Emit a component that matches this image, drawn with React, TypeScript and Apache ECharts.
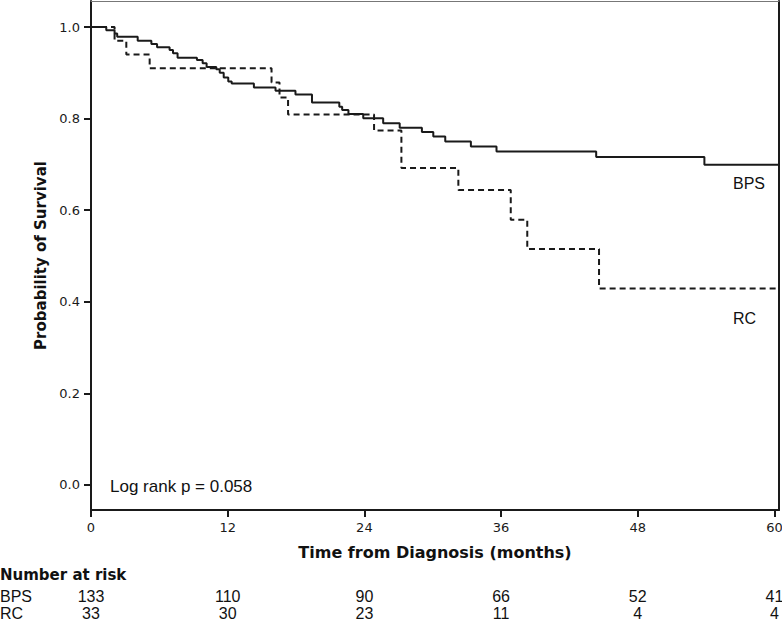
import React, { useEffect, useRef } from 'react';
import * as echarts from 'echarts';

// Kaplan-Meier curves (time in months, survival probability)
const bpsTime = [0, 1.34, 2.07, 2.3, 4.1, 5.3, 5.8, 6.9, 7.2, 7.6, 9.3, 9.8, 10.15, 11.0, 11.3, 11.65, 12.05, 12.35, 14.3, 16.2, 17.95, 19.4, 21.8, 22.05, 22.6, 23.9, 25.65, 27.1, 29.05, 30.05, 31.1, 33.35, 35.6, 44.35, 53.85, 60.4];
const bpsSurv = [1.0, 0.993, 0.986, 0.979, 0.970, 0.963, 0.956, 0.950, 0.943, 0.933, 0.928, 0.921, 0.913, 0.908, 0.900, 0.890, 0.881, 0.877, 0.868, 0.861, 0.853, 0.835, 0.826, 0.819, 0.810, 0.801, 0.790, 0.780, 0.771, 0.761, 0.750, 0.739, 0.728, 0.716, 0.699, 0.699];

const rcTime = [0, 2.07, 3.1, 5.15, 15.85, 16.55, 17.3, 24.85, 27.25, 32.25, 36.85, 38.3, 44.6, 60.4];
const rcSurv = [1.0, 0.970, 0.940, 0.910, 0.879, 0.846, 0.809, 0.774, 0.692, 0.644, 0.579, 0.515, 0.429, 0.429];

const xTicks = [0, 12, 24, 36, 48, 60];
const yTicks = [0, 0.2, 0.4, 0.6, 0.8, 1.0];

const atRiskBPS = [133, 110, 90, 66, 52, 41];
const atRiskRC = [33, 30, 23, 11, 4, 4];

const X_MIN = 0;
const X_MAX = 60.4;
const Y_MIN = -0.055;
const Y_MAX = 1.057;

const INK = '#1a1a1a';
const TICK_FONT = 'DejaVu Sans';
const TITLE_FONT = 'DejaVu Sans';
const PLAIN_FONT = 'Liberation Sans';

export default function App() {
  const ref = useRef<HTMLDivElement>(null);

  useEffect(() => {
    if (!ref.current) return;
    const chart = echarts.init(ref.current, undefined, { renderer: 'svg' });

    const tickIndex = (v: number) => xTicks.indexOf(Math.round(v));

    const hiddenX = {
      type: 'value',
      min: X_MIN,
      max: X_MAX,
      axisTick: { show: false },
      splitLine: { show: false },
    };

    const riskLabel = (values: number[]) => ({
      customValues: xTicks,
      margin: 4,
      fontFamily: PLAIN_FONT,
      fontSize: 16,
      lineHeight: 16,
      color: '#111',
      formatter: (v: number) => {
        const i = tickIndex(v);
        return i >= 0 ? String(values[i]) : '';
      },
    });

    const option: any = {
      animation: false,
      backgroundColor: '#ffffff',
      grid: { left: 91, right: 3, top: 1, bottom: 112, outerBoundsMode: 'none', containLabel: false },
      xAxis: [
        {
          type: 'value',
          min: X_MIN,
          max: X_MAX,
          position: 'bottom',
          axisLine: { show: true, onZero: false, lineStyle: { color: INK, width: 2 } },
          axisTick: { show: true, customValues: xTicks, length: 7, lineStyle: { color: INK, width: 2 } },
          axisLabel: {
            customValues: xTicks,
            margin: 11,
            fontFamily: TICK_FONT,
            fontSize: 13,
            color: '#1a1a1a',
            formatter: (v: number) => String(v),
          },
          splitLine: { show: false },
          name: 'Time from Diagnosis (months)',
          nameLocation: 'middle',
          nameGap: 34,
          nameTextStyle: { fontFamily: TITLE_FONT, fontWeight: 'bold', fontSize: 16, color: '#111' },
        },
        {
          ...hiddenX,
          position: 'top',
          axisLine: { show: true, onZero: false, lineStyle: { color: '#777', width: 1 } },
          axisLabel: { show: false },
        },
        {
          ...hiddenX,
          position: 'bottom',
          offset: 74,
          axisLine: { show: false, onZero: false },
          axisLabel: riskLabel(atRiskBPS),
        },
        {
          ...hiddenX,
          position: 'bottom',
          offset: 91,
          axisLine: { show: false, onZero: false },
          axisLabel: riskLabel(atRiskRC),
        },
      ],
      yAxis: [
        {
          type: 'value',
          min: Y_MIN,
          max: Y_MAX,
          position: 'left',
          axisLine: { show: true, onZero: false, lineStyle: { color: INK, width: 2 } },
          axisTick: { show: true, customValues: yTicks, length: 7, lineStyle: { color: INK, width: 2 } },
          axisLabel: {
            customValues: yTicks,
            margin: 11,
            fontFamily: TICK_FONT,
            fontSize: 13,
            color: '#1a1a1a',
            formatter: (v: number) => v.toFixed(1),
          },
          splitLine: { show: false },
          name: 'Probability of Survival',
          nameLocation: 'middle',
          nameGap: 43,
          nameTextStyle: { fontFamily: TITLE_FONT, fontWeight: 'bold', fontSize: 15, color: '#111' },
        },
        {
          type: 'value',
          min: Y_MIN,
          max: Y_MAX,
          position: 'right',
          axisLine: { show: true, onZero: false, lineStyle: { color: INK, width: 2 } },
          axisTick: { show: false },
          axisLabel: { show: false },
          splitLine: { show: false },
        },
      ],
      series: [
        {
          name: 'BPS',
          type: 'line',
          step: 'end',
          xAxisIndex: 0,
          yAxisIndex: 0,
          showSymbol: false,
          data: bpsTime.map((t, i) => [t, bpsSurv[i]]),
          lineStyle: { color: INK, width: 2 },
          silent: true,
        },
        {
          name: 'RC',
          type: 'line',
          step: 'end',
          xAxisIndex: 0,
          yAxisIndex: 0,
          showSymbol: false,
          data: rcTime.map((t, i) => [t, rcSurv[i]]),
          lineStyle: { color: INK, width: 2, type: [6, 4] },
          silent: true,
        },
      ],
      graphic: [
        {
          type: 'text',
          x: 110,
          y: 486,
          style: { text: 'Log rank p = 0.058', fontFamily: PLAIN_FONT, fontSize: 17, fill: '#111', verticalAlign: 'middle' },
        },
        {
          type: 'text',
          x: 733,
          y: 183,
          style: { text: 'BPS', fontFamily: PLAIN_FONT, fontSize: 16, fill: '#111', verticalAlign: 'middle' },
        },
        {
          type: 'text',
          x: 733,
          y: 318,
          style: { text: 'RC', fontFamily: PLAIN_FONT, fontSize: 16, fill: '#111', verticalAlign: 'middle' },
        },
        {
          type: 'text',
          x: 0,
          y: 575,
          style: { text: 'Number at risk', fontFamily: TITLE_FONT, fontWeight: 'bold', fontSize: 15, fill: '#111', verticalAlign: 'middle' },
        },
        {
          type: 'text',
          x: 0,
          y: 596,
          style: { text: 'BPS', fontFamily: PLAIN_FONT, fontSize: 16, lineHeight: 16, fill: '#111', verticalAlign: 'middle' },
        },
        {
          type: 'text',
          x: 0,
          y: 613,
          style: { text: 'RC', fontFamily: PLAIN_FONT, fontSize: 16, lineHeight: 16, fill: '#111', verticalAlign: 'middle' },
        },
      ],
    };

    chart.setOption(option);
    return () => chart.dispose();
  }, []);

  return (
    <div
      ref={ref}
      style={{ position: 'fixed', left: 0, top: 0, width: 782, height: 622, background: '#fff' }}
    />
  );
}
